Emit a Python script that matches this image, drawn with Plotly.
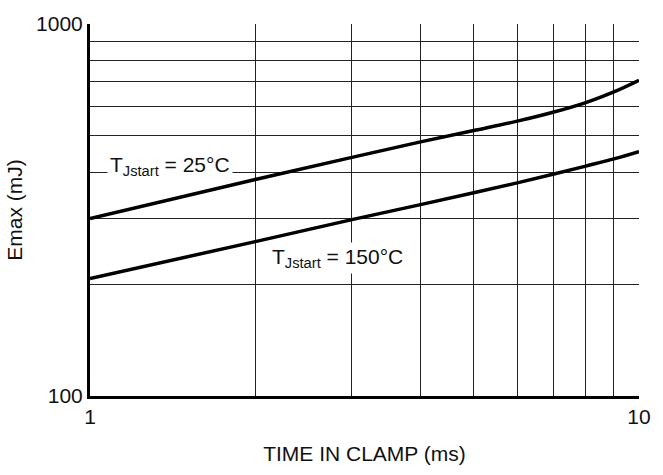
import plotly.graph_objects as go

time_ms = [1, 2, 3, 4, 5, 6, 7, 8, 9, 10]
emax_25c = [300, 382, 438, 482, 517, 548, 580, 615, 657, 706]
emax_150c = [207, 260, 298, 327, 352, 374, 395, 415, 434, 454]

x_tickvals = [1, 2, 3, 4, 5, 6, 7, 8, 9, 10]
x_ticktext = ["1", "", "", "", "", "", "", "", "", "10"]
y_tickvals = [100, 200, 300, 400, 500, 600, 700, 800, 900, 1000]
y_ticktext = ["100", "", "", "", "", "", "", "", "", "1000"]

label_25 = "T<sub>Jstart</sub> = 25°C"
label_150 = "T<sub>Jstart</sub> = 150°C"

font = "Liberation Sans, Arial, sans-serif"

fig = go.Figure()
fig.add_trace(go.Scatter(x=time_ms, y=emax_25c, mode="lines", line=dict(color="black", width=3.5, shape="spline"), showlegend=False))
fig.add_trace(go.Scatter(x=time_ms, y=emax_150c, mode="lines", line=dict(color="black", width=3.5, shape="spline"), showlegend=False))

grid = dict(showgrid=True, gridcolor="#222222", gridwidth=1.4, ticks="", showline=True,
            linecolor="black", linewidth=3, zeroline=False,
            tickfont=dict(family=font, size=21, color="#111"))

fig.update_xaxes(type="log", range=[0, 1], tickvals=x_tickvals, ticktext=x_ticktext,
                 title=dict(text="TIME IN CLAMP (ms)", font=dict(family=font, size=21, color="#111"), standoff=20),
                 mirror=False, **grid)
fig.update_yaxes(type="log", range=[2, 3], tickvals=y_tickvals, ticktext=y_ticktext,
                 title=dict(text="Emax (mJ)", font=dict(family=font, size=21, color="#111"), standoff=8),
                 mirror=False, **grid)

fig.add_annotation(xref="paper", yref="paper", x=0.145, y=0.617, text=label_25, showarrow=False,
                   font=dict(family=font, size=21, color="#111"), bgcolor="white", borderpad=2,
                   xanchor="center", yanchor="middle")
fig.add_annotation(xref="paper", yref="paper", x=0.451, y=0.371, text=label_150, showarrow=False,
                   font=dict(family=font, size=21, color="#111"), bgcolor="white", borderpad=2,
                   xanchor="center", yanchor="middle")

fig.update_layout(width=663, height=475, margin=dict(l=90, r=23, t=17, b=75),
                  plot_bgcolor="white", paper_bgcolor="white")

fig.write_html("out.html", config={"displayModeBar": False},
               post_script="document.body.style.margin='0';document.body.style.overflow='hidden';")
